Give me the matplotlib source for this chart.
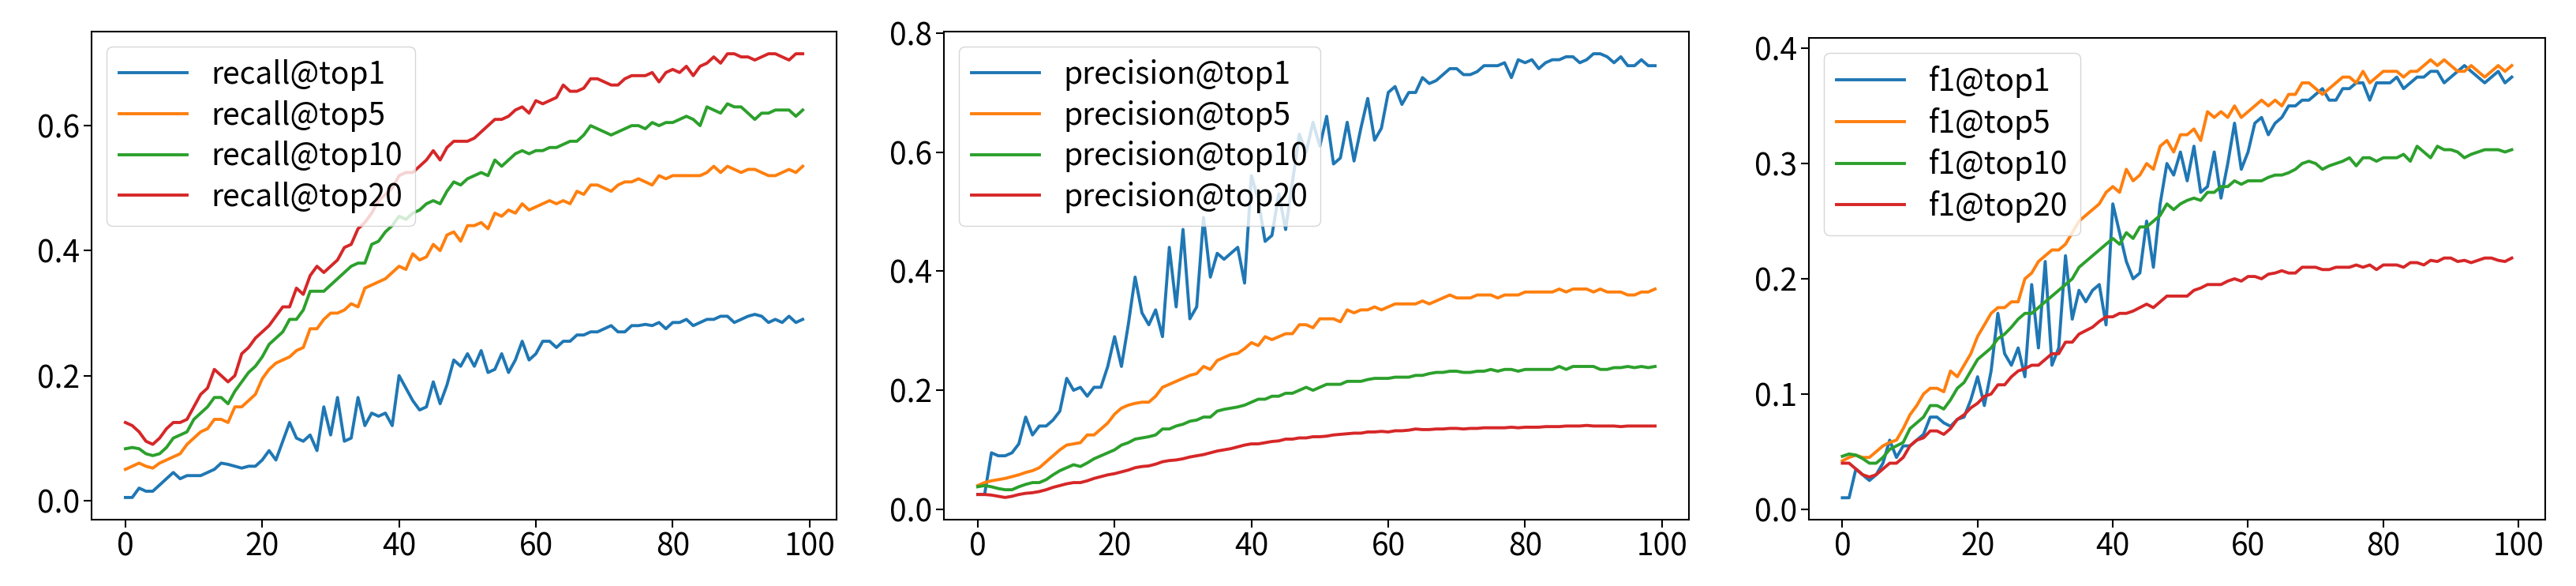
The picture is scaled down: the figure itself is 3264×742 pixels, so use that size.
import matplotlib
matplotlib.use("Agg")
import matplotlib.pyplot as plt
from matplotlib.ticker import MultipleLocator

plt.rcParams['font.family'] = ['Noto Sans CJK SC', 'DejaVu Sans']

epochs = list(range(100))

recall_top1 = [.005,.005,.02,.015,.015,.025,.035,.045,.035,.04,
 .04,.04,.045,.05,.06,.058,.055,.052,.055,.055,
 .065,.08,.065,.095,.125,.10,.095,.105,.08,.15,
 .105,.165,.095,.10,.165,.12,.14,.135,.14,.12,
 .20,.18,.16,.145,.15,.19,.155,.185,.225,.215,
 .235,.215,.24,.205,.21,.235,.205,.225,.255,.225,
 .235,.255,.255,.245,.255,.255,.265,.265,.27,.27,
 .275,.28,.27,.27,.28,.28,.282,.28,.285,.275,
 .285,.285,.29,.28,.285,.29,.29,.295,.295,.285,
 .29,.295,.298,.295,.285,.29,.285,.295,.285,.29]
recall_top5 = [.05,.055,.06,.055,.052,.06,.065,.07,.075,.09,
 .10,.11,.115,.13,.13,.125,.15,.15,.16,.17,
 .195,.21,.22,.225,.23,.24,.245,.275,.275,.29,
 .30,.30,.305,.315,.31,.34,.345,.35,.355,.365,
 .375,.37,.395,.385,.39,.41,.40,.425,.43,.415,
 .44,.44,.445,.435,.46,.455,.465,.46,.475,.465,
 .47,.475,.48,.475,.48,.475,.495,.49,.505,.505,
 .50,.495,.505,.51,.51,.515,.51,.505,.52,.515,
 .52,.52,.52,.52,.52,.525,.535,.525,.535,.53,
 .525,.53,.53,.525,.52,.52,.525,.53,.525,.535]
recall_top10 = [.083,.085,.083,.075,.072,.075,.085,.10,.105,.11,
 .13,.14,.15,.165,.165,.155,.175,.19,.205,.215,
 .23,.25,.26,.27,.29,.29,.305,.335,.335,.335,
 .345,.355,.365,.375,.38,.38,.41,.415,.43,.44,
 .455,.45,.46,.465,.475,.48,.475,.495,.51,.505,
 .515,.52,.525,.52,.545,.535,.545,.555,.56,.555,
 .56,.56,.565,.565,.57,.575,.575,.585,.60,.595,
 .59,.585,.59,.595,.60,.60,.595,.605,.60,.605,
 .605,.61,.615,.61,.60,.63,.625,.62,.635,.63,
 .63,.62,.61,.62,.62,.625,.625,.625,.615,.625]
recall_top20 = [.125,.12,.11,.095,.09,.10,.115,.125,.125,.13,
 .15,.17,.18,.21,.20,.19,.20,.235,.245,.26,
 .27,.28,.295,.31,.31,.34,.33,.36,.375,.365,
 .375,.385,.405,.41,.435,.445,.46,.48,.49,.50,
 .52,.525,.525,.535,.545,.56,.545,.565,.575,.575,
 .575,.58,.59,.60,.61,.61,.615,.625,.63,.62,
 .64,.635,.64,.645,.665,.655,.655,.66,.675,.675,
 .67,.665,.665,.675,.68,.68,.68,.685,.67,.685,
 .69,.685,.695,.68,.695,.70,.71,.70,.715,.715,
 .71,.71,.705,.71,.715,.715,.71,.705,.715,.715]

precision_top1 = [.025,.025,.095,.09,.09,.095,.11,.155,.125,.14,
 .14,.15,.165,.22,.20,.205,.19,.205,.205,.24,
 .29,.24,.31,.39,.33,.31,.335,.29,.44,.34,
 .47,.32,.34,.49,.39,.43,.42,.43,.44,.38,
 .56,.52,.45,.46,.53,.47,.55,.63,.60,.65,
 .61,.66,.58,.59,.65,.585,.64,.69,.62,.64,
 .70,.71,.68,.70,.70,.725,.715,.72,.73,.74,
 .74,.73,.73,.735,.745,.745,.745,.75,.725,.755,
 .75,.755,.74,.75,.755,.755,.76,.76,.75,.755,
 .765,.765,.76,.75,.76,.745,.745,.755,.745,.745]
precision_top5 = [.04,.045,.048,.05,.052,.055,.058,.062,.065,.07,
 .08,.09,.10,.108,.11,.112,.125,.125,.135,.145,
 .16,.17,.175,.178,.18,.18,.19,.205,.21,.215,
 .22,.225,.228,.24,.235,.25,.255,.26,.262,.27,
 .28,.275,.29,.285,.29,.295,.295,.31,.31,.305,
 .32,.32,.32,.315,.335,.33,.335,.335,.34,.335,
 .34,.345,.345,.345,.345,.35,.345,.35,.355,.36,
 .355,.355,.355,.36,.36,.36,.355,.36,.36,.36,
 .365,.365,.365,.365,.365,.37,.365,.37,.37,.37,
 .365,.37,.365,.365,.365,.36,.36,.365,.365,.37]
precision_top10 = [.038,.04,.038,.035,.033,.033,.038,.042,.045,.045,
 .05,.058,.065,.07,.075,.072,.078,.085,.09,.095,
 .10,.108,.112,.118,.12,.122,.125,.135,.135,.14,
 .143,.148,.15,.155,.155,.165,.168,.17,.172,.175,
 .18,.185,.185,.19,.19,.195,.195,.20,.205,.20,
 .205,.21,.21,.21,.215,.215,.215,.218,.22,.22,
 .22,.222,.222,.222,.225,.225,.228,.23,.23,.232,
 .232,.23,.23,.232,.232,.235,.232,.235,.235,.232,
 .235,.235,.235,.235,.235,.24,.235,.24,.24,.24,
 .24,.235,.235,.238,.238,.24,.238,.24,.238,.24]
precision_top20 = [.025,.025,.024,.022,.02,.022,.025,.027,.028,.03,
 .033,.037,.04,.043,.045,.045,.048,.052,.055,.058,
 .06,.063,.066,.07,.072,.073,.076,.08,.082,.083,
 .085,.088,.09,.092,.095,.098,.1,.102,.105,.108,
 .11,.11,.112,.114,.115,.118,.118,.12,.12,.122,
 .122,.123,.125,.126,.127,.128,.128,.13,.13,.131,
 .13,.132,.132,.133,.135,.134,.134,.135,.135,.136,
 .136,.135,.136,.136,.137,.137,.137,.137,.138,.137,
 .138,.138,.138,.139,.139,.139,.14,.14,.14,.141,
 .14,.14,.14,.14,.139,.14,.14,.14,.14,.14]

f1_top1 = [.01,.01,.035,.03,.025,.03,.04,.06,.045,.055,
 .055,.06,.065,.08,.08,.075,.072,.078,.08,.095,
 .115,.09,.12,.17,.135,.125,.14,.115,.195,.14,
 .215,.125,.14,.22,.165,.19,.18,.19,.195,.16,
 .265,.24,.215,.20,.205,.25,.21,.265,.30,.29,
 .31,.285,.315,.275,.28,.31,.27,.30,.335,.295,
 .31,.335,.34,.325,.335,.34,.35,.35,.355,.355,
 .36,.365,.355,.355,.365,.365,.37,.37,.355,.37,
 .37,.37,.375,.365,.37,.375,.375,.38,.38,.37,
 .375,.38,.385,.38,.375,.37,.375,.38,.37,.375]
f1_top5 = [.042,.045,.047,.045,.045,.05,.055,.058,.06,.07,
 .082,.09,.1,.105,.105,.102,.12,.115,.125,.135,
 .15,.16,.17,.175,.175,.18,.18,.2,.205,.215,
 .22,.225,.225,.23,.24,.25,.255,.26,.265,.275,
 .28,.275,.295,.285,.29,.3,.295,.315,.32,.31,
 .325,.325,.33,.32,.345,.34,.345,.34,.35,.34,
 .345,.35,.355,.35,.355,.35,.36,.36,.37,.37,
 .365,.36,.365,.37,.375,.375,.37,.38,.37,.375,
 .38,.38,.38,.375,.38,.38,.385,.39,.385,.39,
 .385,.38,.38,.385,.38,.375,.38,.385,.38,.385]
f1_top10 = [.046,.048,.047,.044,.04,.04,.045,.052,.055,.058,
 .07,.075,.08,.09,.09,.087,.095,.105,.11,.12,
 .13,.135,.14,.148,.152,.158,.165,.17,.17,.175,
 .18,.185,.19,.195,.2,.21,.215,.22,.225,.23,
 .235,.23,.24,.235,.245,.245,.25,.255,.265,.26,
 .265,.268,.27,.268,.275,.275,.28,.28,.285,.282,
 .285,.285,.285,.288,.29,.29,.292,.295,.3,.302,
 .30,.295,.298,.3,.302,.305,.298,.305,.305,.302,
 .305,.305,.305,.308,.302,.315,.31,.305,.315,.312,
 .312,.31,.305,.308,.31,.312,.312,.312,.31,.312]
f1_top20 = [.04,.04,.035,.03,.028,.03,.035,.04,.04,.045,
 .055,.06,.062,.068,.068,.065,.07,.078,.082,.088,
 .092,.098,.1,.108,.108,.115,.12,.122,.125,.125,
 .13,.135,.135,.145,.145,.152,.155,.158,.163,.167,
 .167,.17,.17,.172,.175,.178,.175,.18,.185,.185,
 .185,.185,.19,.192,.195,.195,.195,.198,.2,.198,
 .202,.202,.2,.204,.205,.207,.205,.205,.21,.21,
 .21,.208,.208,.21,.21,.21,.212,.21,.212,.208,
 .212,.212,.212,.21,.214,.214,.212,.216,.215,.218,
 .218,.215,.216,.214,.216,.218,.218,.216,.215,.218]

tops = ['top1', 'top5', 'top10', 'top20']
panels = [
    ('recall', [recall_top1, recall_top5, recall_top10, recall_top20], 0.2),
    ('precision', [precision_top1, precision_top5, precision_top10, precision_top20], 0.2),
    ('f1', [f1_top1, f1_top5, f1_top10, f1_top20], 0.1),
]
colors = ['#1f77b4', '#ff7f0e', '#2ca02c', '#d62728']

fig = plt.figure(figsize=(32.64, 7.42), dpi=100)
lefts = [116, 1196, 2292]
rights = [1060, 2140, 3225]
tops_px = [40, 40, 48]
W, H = 3264, 742
for (name, series, step), l, r, t in zip(panels, lefts, rights, tops_px):
    ax = fig.add_axes([l / W, 1 - 658 / H, (r - l) / W, (658 - t) / H])
    for s, tp, c in zip(series, tops, colors):
        ax.plot(epochs, s, color=c, lw=2.8, label=f'{name}@{tp}')
    ax.set_xticks([0, 20, 40, 60, 80, 100])
    ax.yaxis.set_major_locator(MultipleLocator(step))
    ax.yaxis.set_major_formatter(lambda v, p: f'{v:.1f}')
    ax.tick_params(labelsize=28, width=1.5, length=7)
    for sp in ax.spines.values():
        sp.set_linewidth(1.5)
    ax.legend(loc='upper left', fontsize=28, handlelength=2.2, labelspacing=0.3)

fig.savefig('out.png', dpi=100)
